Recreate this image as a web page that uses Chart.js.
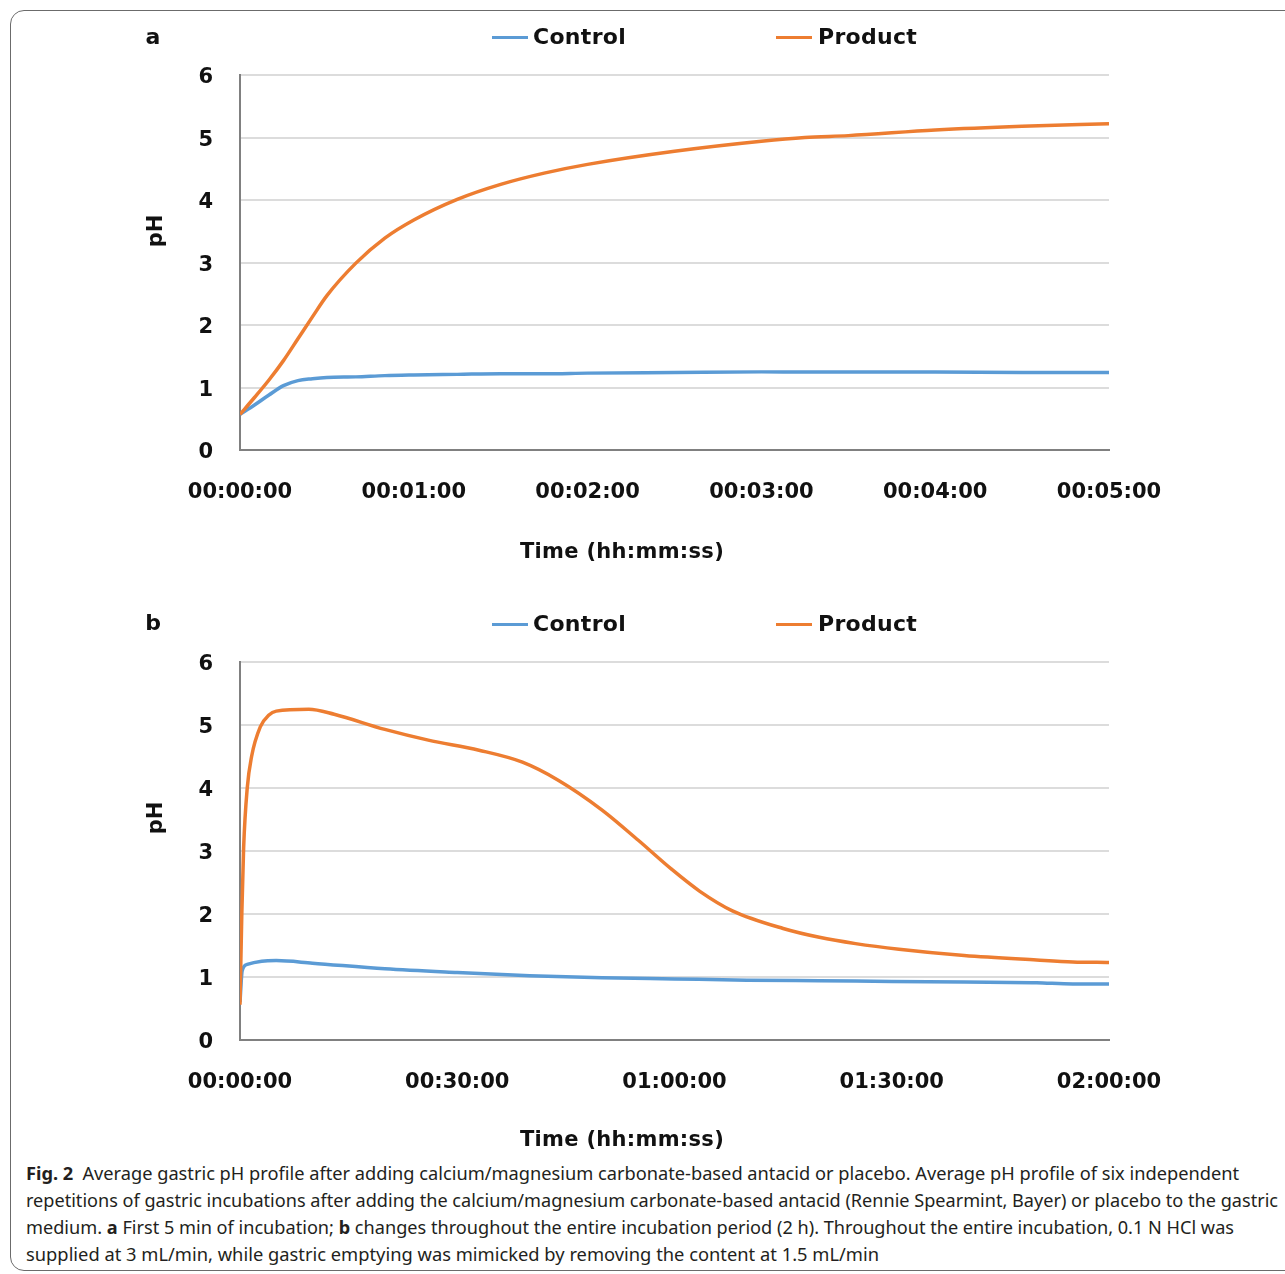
<!DOCTYPE html>
<html>
<head>
<meta charset="utf-8">
<script src="https://cdn.jsdelivr.net/npm/chart.js@4.4.1/dist/chart.umd.min.js"></script>
<style>
body { margin: 0; background: #fff; }
#page { position: relative; width: 1285px; height: 1274px; overflow: hidden; font-family: "DejaVu Sans", sans-serif; color: #111; }
#frame { position: absolute; left: 10px; top: 10px; width: 1300px; height: 1261px; border: 1.5px solid #6b6b6b; border-radius: 14px; box-sizing: border-box; }
.wrap { position: absolute; left: 0; width: 1285px; }
.panel { position: absolute; font-weight: bold; font-size: 22px; line-height: 1; transform: translate(-50%, -50%); }
.ytitle { position: absolute; font-weight: bold; font-size: 21px; line-height: 1; transform: translate(-50%, -50%) rotate(-90deg); }
.xtitle { position: absolute; font-weight: bold; font-size: 21px; line-height: 1; white-space: nowrap; transform: translate(-50%, -50%); letter-spacing: 0.3px; }
.key { position: absolute; width: 36px; height: 3px; margin-top: -1.5px; }
.keytext { position: absolute; font-weight: bold; font-size: 22px; line-height: 1; transform: translateY(-50%); letter-spacing: 0.3px; }
#caption { position: absolute; left: 26px; top: 1160px; font-family: "Noto Sans", sans-serif; font-size: 18px; line-height: 27px; color: #231f20; }
.cl { white-space: nowrap; display: block; width: max-content; transform-origin: 0 50%; }
</style>
</head>
<body>
<div id="page">
  <div id="frame"></div>

  <div class="wrap" style="top:0;height:590px;"><canvas id="chartA"></canvas></div>
  <div class="wrap" style="top:590px;height:570px;"><canvas id="chartB"></canvas></div>

  <div class="panel" style="left:153px;top:37px;">a</div>
  <div class="ytitle" style="left:155px;top:231px;">pH</div>
  <div class="xtitle" style="left:622px;top:551px;">Time (hh:mm:ss)</div>
  <div class="key" style="left:492px;top:37px;background:#5B9BD5;"></div>
  <div class="keytext" style="left:533px;top:37px;">Control</div>
  <div class="key" style="left:776px;top:37px;background:#ED7D31;"></div>
  <div class="keytext" style="left:818px;top:37px;">Product</div>

  <div class="panel" style="left:153px;top:623px;">b</div>
  <div class="ytitle" style="left:155px;top:818px;">pH</div>
  <div class="xtitle" style="left:622px;top:1139px;">Time (hh:mm:ss)</div>
  <div class="key" style="left:492px;top:624px;background:#5B9BD5;"></div>
  <div class="keytext" style="left:533px;top:624px;">Control</div>
  <div class="key" style="left:776px;top:624px;background:#ED7D31;"></div>
  <div class="keytext" style="left:818px;top:624px;">Product</div>

  <div id="caption">
    <div class="cl" data-w="1213"><b>Fig. 2</b>&ensp;Average gastric pH profile after adding calcium/magnesium carbonate-based antacid or placebo. Average pH profile of six independent</div>
    <div class="cl" data-w="1252">repetitions of gastric incubations after adding the calcium/magnesium carbonate-based antacid (Rennie Spearmint, Bayer) or placebo to the gastric</div>
    <div class="cl" data-w="1208">medium. <b>a</b> First 5 min of incubation; <b>b</b> changes throughout the entire incubation period (2 h). Throughout the entire incubation, 0.1 N HCl was</div>
    <div class="cl" data-w="853">supplied at 3 mL/min, while gastric emptying was mimicked by removing the content at 1.5 mL/min</div>
  </div>
</div>

<script>
// panel a: first 5 min, time in seconds
var timeA = [0, 5, 10, 15, 20, 25, 30, 40, 50, 60, 75, 90, 105, 120, 150, 180, 195, 210, 240, 270, 300];
var controlA = [0.57, 0.72, 0.88, 1.03, 1.11, 1.14, 1.16, 1.17, 1.19, 1.2, 1.21, 1.22, 1.22, 1.23, 1.24, 1.25, 1.25, 1.25, 1.25, 1.24, 1.24];
var productA = [0.57, 0.84, 1.12, 1.43, 1.78, 2.13, 2.47, 2.99, 3.39, 3.68, 4.01, 4.25, 4.43, 4.57, 4.78, 4.94, 5.0, 5.03, 5.12, 5.18, 5.22];
var ticksA = [0, 60, 120, 180, 240, 300];

// panel b: whole 2 h, time in minutes
var timeBControl = [0, 0.3, 1, 3, 5, 10, 20, 30, 40, 50, 60, 70, 80, 90, 100, 110, 115, 120];
var controlB = [0.6, 1.1, 1.2, 1.25, 1.26, 1.22, 1.13, 1.07, 1.02, 0.99, 0.97, 0.95, 0.94, 0.93, 0.92, 0.91, 0.89, 0.89];
var timeBProduct = [0, 0.25, 0.5, 1, 1.6, 2.8, 4, 5, 9.5, 13, 20, 26, 33, 39, 44, 50, 55, 59.5, 63.5, 68, 75, 80, 85, 91, 100, 110, 115, 120];
var productB = [0.56, 2.0, 3.05, 4.0, 4.5, 4.97, 5.16, 5.22, 5.25, 5.17, 4.93, 4.76, 4.6, 4.41, 4.12, 3.65, 3.17, 2.72, 2.36, 2.05, 1.77, 1.63, 1.53, 1.44, 1.34, 1.27, 1.24, 1.23];
var ticksB = [0, 30, 60, 90, 120];

var pHTicks = [0, 1, 2, 3, 4, 5, 6];

var BLUE = '#5B9BD5';
var ORANGE = '#ED7D31';
var FONT = { family: '"DejaVu Sans", sans-serif', size: 21, weight: 'bold' };

function pad2(n) { return (n < 10 ? '0' : '') + n; }
function hms(sec) {
    sec = Math.round(sec);
    return pad2(Math.floor(sec / 3600)) + ':' + pad2(Math.floor(sec / 60) % 60) + ':' + pad2(sec % 60);
}
function points(xs, ys) {
    return xs.map(function (x, i) { return { x: x, y: ys[i] }; });
}

function makeChart(id, control, product, xMax, xTicks, toSeconds) {
    var ctx = document.getElementById(id);
    return new Chart(ctx, {
        type: 'line',
        data: {
            datasets: [{
                label: 'Control',
                data: control,
                borderColor: BLUE,
                backgroundColor: BLUE,
                borderWidth: 3.5,
                pointRadius: 0,
                cubicInterpolationMode: 'monotone',
                order: 1
            }, {
                label: 'Product',
                data: product,
                borderColor: ORANGE,
                backgroundColor: ORANGE,
                borderWidth: 3.5,
                pointRadius: 0,
                cubicInterpolationMode: 'monotone',
                order: 0
            }]
        },
        options: {
            responsive: true,
            maintainAspectRatio: false,
            animation: false,
            layout: { padding: { left: 140, right: 120, top: 60, bottom: 60 } },
            plugins: {
                legend: { display: false },
                tooltip: { enabled: false }
            },
            scales: {
                x: {
                    type: 'linear',
                    min: 0,
                    max: xMax,
                    afterBuildTicks: function (scale) {
                        scale.ticks = xTicks.map(function (v) { return { value: v }; });
                    },
                    ticks: {
                        color: '#111',
                        font: FONT,
                        padding: 30,
                        maxRotation: 0,
                        callback: function (v) { return hms(v * toSeconds); }
                    },
                    grid: { display: false, drawTicks: false },
                    border: { display: true, color: '#808080', width: 2 }
                },
                y: {
                    min: 0,
                    max: 6,
                    afterBuildTicks: function (scale) {
                        scale.ticks = pHTicks.map(function (v) { return { value: v }; });
                    },
                    afterFit: function (scale) { scale.width = 98; },
                    ticks: { color: '#111', font: FONT, padding: 27, labelOffset: 3 },
                    grid: { color: '#dcdcdc', lineWidth: 2, drawTicks: false },
                    border: { display: true, color: '#808080', width: 2 }
                }
            }
        }
    });
}

// nudge the layout padding so the plot area lands where the original has it
function fitArea(chart, target) {
    for (var k = 0; k < 2; k++) {
        var a = chart.chartArea;
        var p = chart.options.layout.padding;
        chart.options.layout.padding = {
            left: p.left + (target.left - a.left),
            right: p.right + (a.right - target.right),
            top: p.top + (target.top - a.top),
            bottom: p.bottom + (a.bottom - target.bottom)
        };
        chart.update('none');
    }
}

var chartA = makeChart('chartA', points(timeA, controlA), points(timeA, productA), 300, ticksA, 1);
var chartB = makeChart('chartB', points(timeBControl, controlB), points(timeBProduct, productB), 120, ticksB, 60);
fitArea(chartA, { left: 240, right: 1109, top: 75, bottom: 450 });
fitArea(chartB, { left: 240, right: 1109, top: 72, bottom: 450 });

document.querySelectorAll('.cl').forEach(function (el) {
    var w = el.getBoundingClientRect().width;
    el.style.transform = 'scaleX(' + (parseFloat(el.dataset.w) / w) + ')';
});
</script>
</body>
</html>
